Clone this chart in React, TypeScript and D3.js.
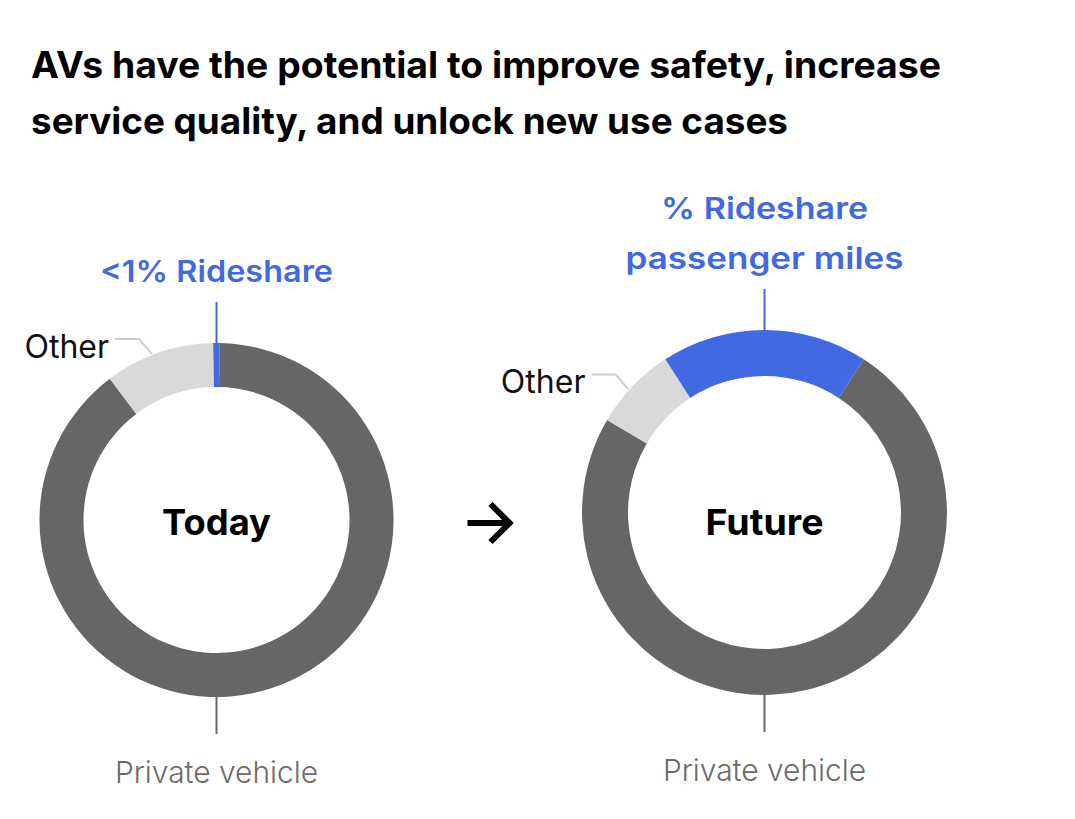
import React from "react";
import * as d3 from "d3";

// ---- data ----
const categories = ["Private vehicle", "Other", "Rideshare"];
const todayShares = [89.4, 10.0, 0.6];
const futureShares = [74.3, 7.4, 18.3];
const periodLabels = ["Today", "Future"];
const rideshareLabels = [["<1% Rideshare"], ["% Rideshare", "passenger miles"]];
const titleLines = [
  "AVs have the potential to improve safety, increase",
  "service quality, and unlock new use cases",
];

const COLORS: Record<string, string> = {
  "Private vehicle": "#666666",
  Other: "#d9d9d9",
  Rideshare: "#4169e1",
};

const W = 1075;
const H = 819;
const FONT = "Inter, 'Noto Sans', sans-serif";

// layout (styling only)
const TITLE_WIDTHS = [910, 757];
const RIDE_WIDTHS = [[233], [207, 278]];
const CENTER_WIDTHS = [109, 118];

const donuts = [
  { label: periodLabels[0], shares: todayShares, cx: 216.5, cy: 520, R: 177, r: 133, ride: rideshareLabels[0], rw: RIDE_WIDTHS[0], cw: CENTER_WIDTHS[0] },
  { label: periodLabels[1], shares: futureShares, cx: 764.5, cy: 512.5, R: 182.5, r: 136.5, ride: rideshareLabels[1], rw: RIDE_WIDTHS[1], cw: CENTER_WIDTHS[1] },
];
const CENTER_BASELINE = 535;

type Datum = { cat: string; value: number };

function Donut({ d }: { d: (typeof donuts)[number] }) {
  const data: Datum[] = categories.map((c, i) => ({ cat: c, value: d.shares[i] }));
  const total = d3.sum(data, (x) => x.value);
  const rideFrac = data[2].value / total;
  const start = Math.PI * rideFrac;
  const pie = d3
    .pie<Datum>()
    .sort(null)
    .value((x) => x.value)
    .startAngle(start)
    .endAngle(start + 2 * Math.PI);
  const arcs = pie(data);
  const arc = d3.arc<d3.PieArcDatum<Datum>>().innerRadius(d.r).outerRadius(d.R);

  // "Other" leader
  const other = arcs[1];
  const la = other.startAngle + 0.44 * (other.endAngle - other.startAngle);
  const px = d.cx + (d.R + 1) * Math.sin(la);
  const py = d.cy - (d.R + 1) * Math.cos(la);
  const ex = px - 13;
  const ey = py - 15;
  const textEnd = ex - 30;

  // rideshare leader (top)
  const ride = arcs[2];
  const rmid = (ride.startAngle + ride.endAngle) / 2;
  const rx = d.cx + d.R * Math.sin(rmid);
  const ry = d.cy - d.R * Math.cos(rmid);
  const rTop = ry - 41;
  const lastBase = ry - 61;
  const lineH = 50;

  // private vehicle leader (bottom)
  const bottomY = d.cy + d.R;

  return (
    <g>
      {arcs.map((a) => (
        <path
          key={a.data.cat}
          d={arc(a) || ""}
          transform={`translate(${d.cx},${d.cy})`}
          fill={COLORS[a.data.cat]}
        />
      ))}
      <text
        x={d.cx}
        y={CENTER_BASELINE}
        textAnchor="middle"
        fontFamily={FONT}
        fontWeight={700}
        fontSize={36}
        textLength={d.cw}
        lengthAdjust="spacingAndGlyphs"
        fill="#000"
      >
        {d.label}
      </text>

      {/* Other */}
      <polyline
        points={`${textEnd + 6},${ey} ${ex},${ey} ${px},${py}`}
        fill="none"
        stroke="#cccccc"
        strokeWidth={2}
      />
      <text x={textEnd} y={ey + 19} textAnchor="end" fontFamily={FONT} fontWeight={400} fontSize={32} fill="#111">
        {categories[1]}
      </text>

      {/* Rideshare */}
      <line x1={rx} y1={ry} x2={rx} y2={rTop} stroke={COLORS.Rideshare} strokeWidth={2} />
      {d.ride.map((t, i) => (
        <text
          key={t}
          x={rx}
          y={lastBase - (d.ride.length - 1 - i) * lineH}
          textAnchor="middle"
          fontFamily={FONT}
          fontWeight={600}
          fontSize={30}
          textLength={d.rw[i]}
          lengthAdjust="spacingAndGlyphs"
          fill={COLORS.Rideshare}
        >
          {t}
        </text>
      ))}

      {/* Private vehicle */}
      <line x1={d.cx} y1={bottomY} x2={d.cx} y2={bottomY + 37} stroke="#666666" strokeWidth={2} />
      <text
        x={d.cx}
        y={bottomY + 86}
        textAnchor="middle"
        fontFamily={FONT}
        fontWeight={300}
        fontSize={30}
        textLength={203}
        lengthAdjust="spacingAndGlyphs"
        fill="#6b6b6b"
      >
        {categories[0]}
      </text>
    </g>
  );
}

export default function App() {
  const ax = (donuts[0].cx + donuts[1].cx) / 2 - 1;
  const ay = 523;
  return (
    <svg
      width={W}
      height={H}
      viewBox={`0 0 ${W} ${H}`}
      style={{ position: "absolute", left: 0, top: 0, background: "#fff" }}
    >
      <rect width={W} height={H} fill="#fff" />
      {titleLines.map((t, i) => (
        <text
          key={i}
          x={31}
          y={78 + i * 56}
          fontFamily={FONT}
          fontWeight={700}
          fontSize={37}
          textLength={TITLE_WIDTHS[i]}
          lengthAdjust="spacingAndGlyphs"
          fill="#000"
        >
          {t}
        </text>
      ))}
      {donuts.map((d) => (
        <Donut key={d.label} d={d} />
      ))}
      <g stroke="#000" strokeWidth={6} fill="none">
        <line x1={ax - 22} y1={ay} x2={ax + 19} y2={ay} />
        <polyline points={`${ax + 1},${ay - 19} ${ax + 20},${ay} ${ax + 1},${ay + 19}`} strokeLinejoin="miter" />
      </g>
    </svg>
  );
}
